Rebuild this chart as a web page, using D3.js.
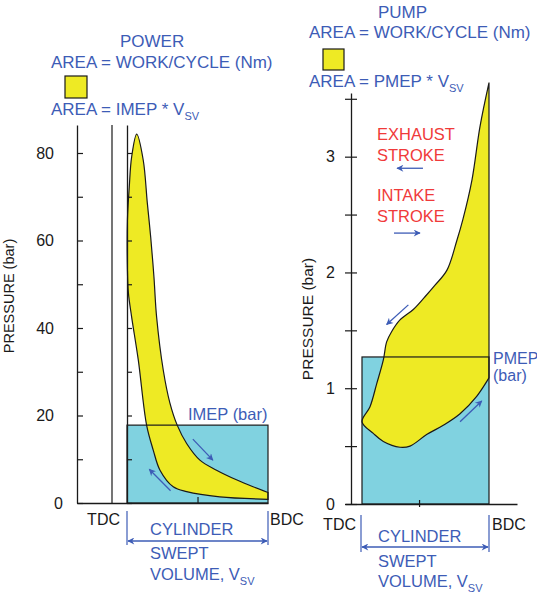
<!DOCTYPE html>
<html>
<head>
<meta charset="utf-8">
<script src="https://cdn.jsdelivr.net/npm/d3@7"></script>
<style>
  body { margin: 0; background: #fff; }
  text { font-family: "Liberation Sans", Arial, sans-serif; }
</style>
</head>
<body>
<script>
// left diagram: power loop (volume fraction 0 = TDC, 1 = BDC; pressure in bar)
var leftExpV  = [0.069, 0.115, 0.144, 0.168, 0.191, 0.210, 0.257, 0.304, 0.356, 0.423, 0.517, 0.635, 0.776, 0.894, 1.0];
var leftExpP  = [84.3, 78.4, 68.6, 60.8, 51.7, 42.5, 30.4, 22.9, 17.8, 13.6, 9.8, 7.5, 5.3, 3.7, 2.4];
var leftCompV = [1.0, 0.658, 0.423, 0.328, 0.234, 0.186, 0.139, 0.080, 0.033, 0.010, 0.003, 0.003, 0.016, 0.033];
var leftCompP = [0.85, 1.4, 2.6, 3.7, 7.5, 12.1, 17.8, 32.7, 42.5, 48.0, 53.3, 64.7, 72.2, 79.1];
var imep = 17.8;
var leftTicks = [0, 10, 20, 30, 40, 50, 60, 70, 80];

// right diagram: pumping loop
var rightExhV = [1.0, 0.929, 0.866, 0.795, 0.748, 0.669, 0.575, 0.496, 0.404, 0.299, 0.234, 0.194, 0.168, 0.116, 0.063, 0];
var rightExhP = [3.64, 3.26, 2.80, 2.46, 2.28, 2.02, 1.89, 1.79, 1.68, 1.59, 1.49, 1.40, 1.245, 1.04, 0.84, 0.71];
var rightIntV = [0, 0.089, 0.168, 0.299, 0.378, 0.509, 0.640, 0.772, 0.903, 1.0];
var rightIntP = [0.71, 0.61, 0.54, 0.49, 0.50, 0.60, 0.68, 0.78, 0.93, 1.09];
var pmep = 1.27;
var rightTicks = [0, 0.5, 1, 1.5, 2, 2.5, 3, 3.5];

var W = 537, H = 593;
var BLUE = '#3d5cb6', RED = '#f03a3a', YEL = '#eeea24', CYAN = '#80d2e0', INK = '#1a1a1a';

var svg = d3.select('body').append('svg').attr('width', W).attr('height', H);

var defs = svg.append('defs');
defs.append('marker').attr('id', 'ah')
  .attr('viewBox', '0 0 10 10').attr('refX', 9).attr('refY', 5)
  .attr('markerUnits', 'userSpaceOnUse').attr('markerWidth', 9).attr('markerHeight', 7)
  .attr('orient', 'auto-start-reverse')
  .append('path').attr('d', 'M0,0L10,5L0,10L3,5Z').attr('fill', BLUE);

var pts = function(vs, ps){ return vs.map(function(v, i){ return [v, ps[i]]; }); };

var addText = function(x, y, str, color, size, sub, anchor){
  var t = svg.append('text').attr('x', x).attr('y', y)
    .attr('fill', color).style('font-size', size + 'px')
    .attr('text-anchor', anchor || 'start').text(str);
  if (sub) t.append('tspan').attr('dy', 5).style('font-size', '11px').text(sub);
  return t;
};

var arrow = function(x1, y1, x2, y2, both){
  var l = svg.append('line').attr('x1', x1).attr('y1', y1).attr('x2', x2).attr('y2', y2)
    .attr('stroke', BLUE).attr('stroke-width', 1.3).attr('marker-end', 'url(#ah)');
  if (both) l.attr('marker-start', 'url(#ah)');
};

// ---------- left chart ----------
var xL = d3.scaleLinear().domain([0, 1]).range([127, 268]);
var yL = d3.scaleLinear().domain([0, 86.4]).range([503, 125]);

var lineL = d3.line().x(function(d){ return xL(d[0]); }).y(function(d){ return yL(d[1]); })
  .curve(d3.curveCatmullRom.alpha(0.5));

svg.append('rect').attr('x', xL(0)).attr('y', yL(imep))
  .attr('width', xL(1) - xL(0)).attr('height', yL(0) - yL(imep)).attr('fill', CYAN);

var loopL = pts(leftExpV, leftExpP).reverse().concat(pts(leftCompV, leftCompP).reverse());
svg.append('path').attr('d', lineL(loopL) + 'Z')
  .attr('fill', YEL).attr('stroke', INK).attr('stroke-width', 1.2);

svg.append('rect').attr('x', xL(0)).attr('y', yL(imep))
  .attr('width', xL(1) - xL(0)).attr('height', yL(0) - yL(imep))
  .attr('fill', 'none').attr('stroke', INK).attr('stroke-width', 1.2);

var axL = svg.append('g').attr('transform', 'translate(77,0)')
  .call(d3.axisLeft(yL).tickValues(leftTicks).tickSize(-6).tickSizeOuter(0).tickPadding(23)
    .tickFormat(function(d){ return d % 20 === 0 ? d : ''; }));
axL.selectAll('.tick text').filter(function(d){ return d === 0; }).attr('dx', 9);

svg.append('g').attr('transform', 'translate(' + xL(0) + ',0)')
  .call(d3.axisLeft(yL).tickValues(leftTicks).tickSize(-5).tickSizeOuter(0).tickFormat(''));

svg.append('line').attr('x1', 112).attr('x2', 112).attr('y1', yL(86.4)).attr('y2', yL(0))
  .attr('stroke', INK).attr('stroke-width', 1.2);

var xLa = d3.scaleLinear().domain([-0.355, 1]).range([77, 268]);
svg.append('g').attr('transform', 'translate(0,' + yL(0) + ')')
  .call(d3.axisBottom(xLa).tickValues([0.5]).tickSize(-6).tickSizeOuter(0).tickFormat(''));

// ---------- right chart ----------
var xR = d3.scaleLinear().domain([0, 1]).range([362, 489]);
var yR = d3.scaleLinear().domain([0, 3.55]).range([504, 93]);

var lineR = d3.line().x(function(d){ return xR(d[0]); }).y(function(d){ return yR(d[1]); })
  .curve(d3.curveCatmullRom.alpha(0.5));

svg.append('rect').attr('x', xR(0)).attr('y', yR(pmep))
  .attr('width', xR(1) - xR(0)).attr('height', yR(0) - yR(pmep)).attr('fill', CYAN);

var loopR = pts(rightExhV, rightExhP).concat(pts(rightIntV, rightIntP).slice(1));
svg.append('path').attr('d', lineR(loopR) + 'Z')
  .attr('fill', YEL).attr('stroke', INK).attr('stroke-width', 1.2);

svg.append('rect').attr('x', xR(0)).attr('y', yR(pmep))
  .attr('width', xR(1) - xR(0)).attr('height', yR(0) - yR(pmep))
  .attr('fill', 'none').attr('stroke', INK).attr('stroke-width', 1.2);

var axR = svg.append('g').attr('transform', 'translate(351,0)')
  .call(d3.axisLeft(yR).tickValues(rightTicks).tickSize(6).tickSizeOuter(0).tickPadding(10)
    .tickFormat(function(d){ return d % 1 === 0 ? d : ''; }));
axR.selectAll('.tick line').attr('x1', 6);

var xRa = d3.scaleLinear().domain([-0.134, 1.22]).range([345, 517]);
var axRb = svg.append('g').attr('transform', 'translate(0,' + yR(0) + ')')
  .call(d3.axisBottom(xRa).tickValues([0.449]).tickSize(3).tickSizeOuter(0).tickFormat(''));
axRb.selectAll('.tick line').attr('y1', -4);

// axis styling
svg.selectAll('.domain').attr('stroke', INK).attr('stroke-width', 1.3);
svg.selectAll('.tick line').attr('stroke', INK).attr('stroke-width', 1.2);
svg.selectAll('.tick text').attr('fill', INK).style('font-size', '16px')
  .style('font-family', '"Liberation Sans", Arial, sans-serif');

// ---------- annotations ----------
addText(120, 47, 'POWER', BLUE, 17);
addText(51, 68, 'AREA = WORK/CYCLE (Nm)', BLUE, 17);
svg.append('rect').attr('x', 65).attr('y', 76).attr('width', 22).attr('height', 22)
  .attr('fill', YEL).attr('stroke', INK).attr('stroke-width', 1.2);
addText(51, 115, 'AREA = IMEP * V', BLUE, 17, 'SV');

addText(378, 18, 'PUMP', BLUE, 17);
addText(309, 38, 'AREA = WORK/CYCLE (Nm)', BLUE, 17);
svg.append('rect').attr('x', 323).attr('y', 49).attr('width', 21).attr('height', 21)
  .attr('fill', YEL).attr('stroke', INK).attr('stroke-width', 1.2);
addText(309, 87, 'AREA = PMEP * V', BLUE, 17, 'SV');

addText(188, 420, 'IMEP (bar)', BLUE, 16.5);
addText(493, 364, 'PMEP', BLUE, 16);
addText(493, 381, '(bar)', BLUE, 16);

addText(377, 140, 'EXHAUST', RED, 16.5);
addText(377, 161, 'STROKE', RED, 16.5);
addText(377, 201, 'INTAKE', RED, 16.5);
addText(377, 222, 'STROKE', RED, 16.5);
arrow(xR(0.480), yR(2.90), xR(0.276), yR(2.90));
arrow(xR(0.252), yR(2.34), xR(0.457), yR(2.34));

// loop direction arrows
arrow(xL(0.467), yL(14.6), xL(0.609), yL(9.8));
arrow(xL(0.309), yL(2.8), xL(0.158), yL(7.7));
arrow(xR(0.365), yR(1.72), xR(0.194), yR(1.55));
arrow(xR(0.772), yR(0.71), xR(0.943), yR(0.89));

// rotated axis titles
svg.append('text').attr('transform', 'translate(14,296) rotate(-90)')
  .attr('text-anchor', 'middle').attr('fill', INK).style('font-size', '14.5px').text('PRESSURE (bar)');
svg.append('text').attr('transform', 'translate(313,319) rotate(-90)')
  .attr('text-anchor', 'middle').attr('fill', INK).style('font-size', '15.5px').text('PRESSURE (bar)');

// swept volume brackets
var bracket = function(xs, y1, y2, ya){
  [0, 1].forEach(function(v){
    svg.append('line').attr('x1', xs(v)).attr('x2', xs(v)).attr('y1', y1).attr('y2', y2)
      .attr('stroke', BLUE).attr('stroke-width', 1.2);
  });
  arrow(xs(0) + 1, ya, xs(1) - 1, ya, true);
};
bracket(xL, 511, 545, 541);
bracket(function(v){ return v ? xR(1) : 361; }, 515, 552, 547);

addText(120, 525, 'TDC', INK, 16, null, 'end');
addText(270, 525, 'BDC', INK, 16);
addText(150, 535, 'CYLINDER', BLUE, 16.5);
addText(150, 559, 'SWEPT', BLUE, 16.5);
addText(150, 580, 'VOLUME, V', BLUE, 16.5, 'SV');

addText(356, 530, 'TDC', INK, 16, null, 'end');
addText(492, 530, 'BDC', INK, 16);
addText(378, 542, 'CYLINDER', BLUE, 16.5);
addText(378, 567, 'SWEPT', BLUE, 16.5);
addText(378, 587, 'VOLUME, V', BLUE, 16.5, 'SV');
</script>
</body>
</html>
